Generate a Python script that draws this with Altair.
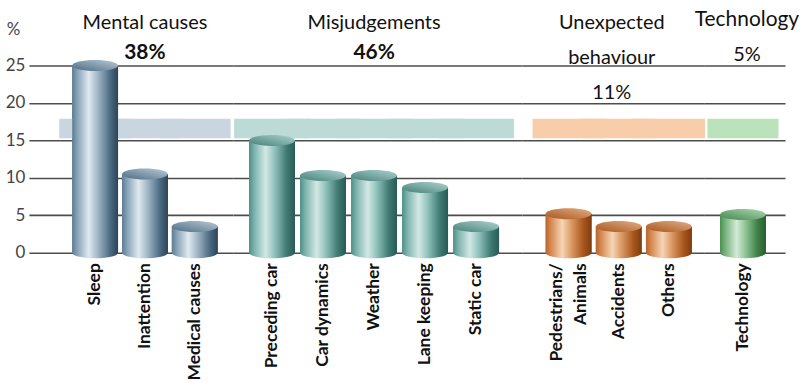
import altair as alt
import pandas as pd

# ---------------- data ----------------
mental_causes = ["Sleep", "Inattention", "Medical causes"]
mental_values = [25.0, 10.5, 3.5]
misjudgement_causes = ["Preceding car", "Car dynamics", "Weather", "Lane keeping", "Static car"]
misjudgement_values = [15.0, 10.3, 10.3, 8.7, 3.5]
unexpected_causes = ["Pedestrians/ Animals", "Accidents", "Others"]
unexpected_values = [5.2, 3.5, 3.5]
technology_causes = ["Technology"]
technology_values = [5.1]

group_titles = [["Mental causes"], ["Misjudgements"], ["Unexpected", "behaviour"], ["Technology"]]
group_shares = ["38%", "46%", "11%", "5%"]
group_centres = ["Inattention", "Weather", "Accidents", "Technology"]

band_low, band_high = 15.3, 17.9
y_ticks = [0, 5, 10, 15, 20, 25]

FONT = "Lato"
PLOT_H = 188
BAR_W = 46
ELLIPSE = "M-1,0 A1,0.24 0 1,1 1,0 A1,0.24 0 1,1 -1,0 Z"


def grad(colors, x1=0, y1=0, x2=1, y2=0):
    return alt.Gradient(
        gradient="linear", x1=x1, y1=y1, x2=x2, y2=y2,
        stops=[alt.GradientStop(color=c, offset=o) for o, c in colors],
    )


palettes = [
    dict(body=[(0, "#5d7c94"), (0.12, "#8aa5b9"), (0.36, "#e0e9ef"), (0.56, "#a1b6c6"), (0.82, "#4d6c84"), (1, "#2c4457")],
         cap=[(0, "#4c6b83"), (1, "#b9cad6")], band="#c9d6df"),
    dict(body=[(0, "#4f8f88"), (0.12, "#7fb5ae"), (0.36, "#d3e8e5"), (0.56, "#90c1bb"), (0.82, "#3f7a73"), (1, "#2a5a55")],
         cap=[(0, "#467f78"), (1, "#add3ce")], band="#bcdad6"),
    dict(body=[(0, "#b9652a"), (0.12, "#d78b52"), (0.36, "#f6d5b7"), (0.56, "#dc9a66"), (0.82, "#a9561c"), (1, "#7e3c10")],
         cap=[(0, "#a6561f"), (1, "#e4ad82")], band="#f8cda9"),
    dict(body=[(0, "#4a8f52"), (0.12, "#78b37f"), (0.36, "#d4ebd5"), (0.56, "#8dc394"), (0.82, "#3f7f47"), (1, "#2a5e31")],
         cap=[(0, "#468650"), (1, "#acd8b0")], band="#bae3bb"),
]

panels = [
    (mental_causes, mental_values, 205, 0.6, 0.733, 1.6),
    (misjudgement_causes, misjudgement_values, 290, 0.381, 0.41, 1.65),
    (unexpected_causes, unexpected_values, 183, 0.368, 0.65, 1.6),
    (technology_causes, technology_values, 81, 0.342, 0.45, 1.55),
]

title_y = [-36.5, -36.5, -36.5, -39.5]
title_size = [20, 20, 20, 21]
share_y = [-6.5, -6.5, 33.5, -4.5]
share_weight = ["bold", "bold", "normal", "normal"]
share_size = [21, 21, 20, 20]
title_dx = [0, 0, -7, 4]

label_expr = "datum.label == 'Pedestrians/ Animals' ? ['Pedestrians/', 'Animals'] : datum.label"
label_offset = {"condition": {"test": "datum.value == 'Pedestrians/ Animals'", "value": -12}, "value": 0}

charts = []
for i, (cats, vals, w, po, al, band_rel) in enumerate(panels):
    pal = palettes[i]
    df = pd.DataFrame({"cause": cats, "value": vals})
    xscale = alt.Scale(domain=cats, paddingInner=0.1, paddingOuter=po, align=al)
    x_axis = alt.Axis(title=None, labelAngle=-90, ticks=False, domain=False, grid=False,
                      labelFont=FONT, labelFontSize=17.5, labelFontWeight="bold", labelColor="#111",
                      labelPadding=10, labelLineHeight=24, labelExpr=label_expr, labelOverlap=False,
                      labelOffset=label_offset)
    if i == 0:
        y_axis = alt.Axis(title="%", titleAngle=0, titleX=-16, titleY=-27, titleFont=FONT,
                          titleFontSize=17, titleFontWeight="normal", titleColor="#444",
                          values=y_ticks, ticks=False, domain=False, labelFont=FONT,
                          labelFontSize=17, labelColor="#444", labelPadding=4, grid=True,
                          labelOverlap=False)
    else:
        y_axis = alt.Axis(title=None, values=y_ticks, ticks=False, domain=False, labels=False,
                          grid=True)
    yscale = alt.Scale(domain=[0, 25], nice=False, zero=True)

    base = alt.Chart(df)
    x_enc = alt.X("cause:N", scale=xscale, sort=cats, axis=x_axis)

    body = base.mark_bar(width=BAR_W, fill=grad(pal["body"])).encode(
        x=x_enc, y=alt.Y("value:Q", scale=yscale, axis=y_axis), y2=alt.datum(0)
    )
    band = base.mark_bar(fill=pal["band"], width=alt.RelativeBandSize(band_rel)).encode(
        x=x_enc, y=alt.datum(band_low, scale=yscale, axis=y_axis), y2=alt.datum(band_high)
    )
    bottom = base.mark_point(shape=ELLIPSE, size=BAR_W * BAR_W, filled=True, opacity=1,
                             fill=grad(pal["body"]), strokeWidth=0).encode(
        x=x_enc, y=alt.datum(0, scale=yscale, axis=y_axis)
    )
    cap = base.mark_point(shape=ELLIPSE, size=BAR_W * BAR_W, filled=True, opacity=1,
                          fill=grad(pal["cap"], 0, 1, 1, 0), strokeWidth=0).encode(
        x=x_enc, y=alt.Y("value:Q", scale=yscale, axis=y_axis)
    )
    tdf = pd.DataFrame({"cause": [group_centres[i]], "title": [group_titles[i]], "share": [group_shares[i]]})
    title = alt.Chart(tdf).mark_text(font=FONT, fontSize=title_size[i], color="#111",
                                     baseline="alphabetic", lineHeight=35, dx=title_dx[i]).encode(
        x=x_enc, y=alt.value(title_y[i]), text="title"
    )
    share = alt.Chart(tdf).mark_text(font=FONT, fontSize=share_size[i], color="#111",
                                     baseline="alphabetic", fontWeight=share_weight[i],
                                     dx=title_dx[i]).encode(
        x=x_enc, y=alt.value(share_y[i]), text="share"
    )
    layer = alt.layer(body, band, bottom, body, cap, title, share).properties(width=w, height=PLOT_H)
    charts.append(layer)

chart = alt.hconcat(*charts, spacing=0, bounds="flush").configure_view(stroke=None).configure_axis(
    gridColor="#4d4d4d", gridWidth=1.6
).properties(padding={"left": 5, "top": 8, "right": 0, "bottom": 0}, background="white")

chart.save("out.html", embed_options={"renderer": "svg", "actions": False})
